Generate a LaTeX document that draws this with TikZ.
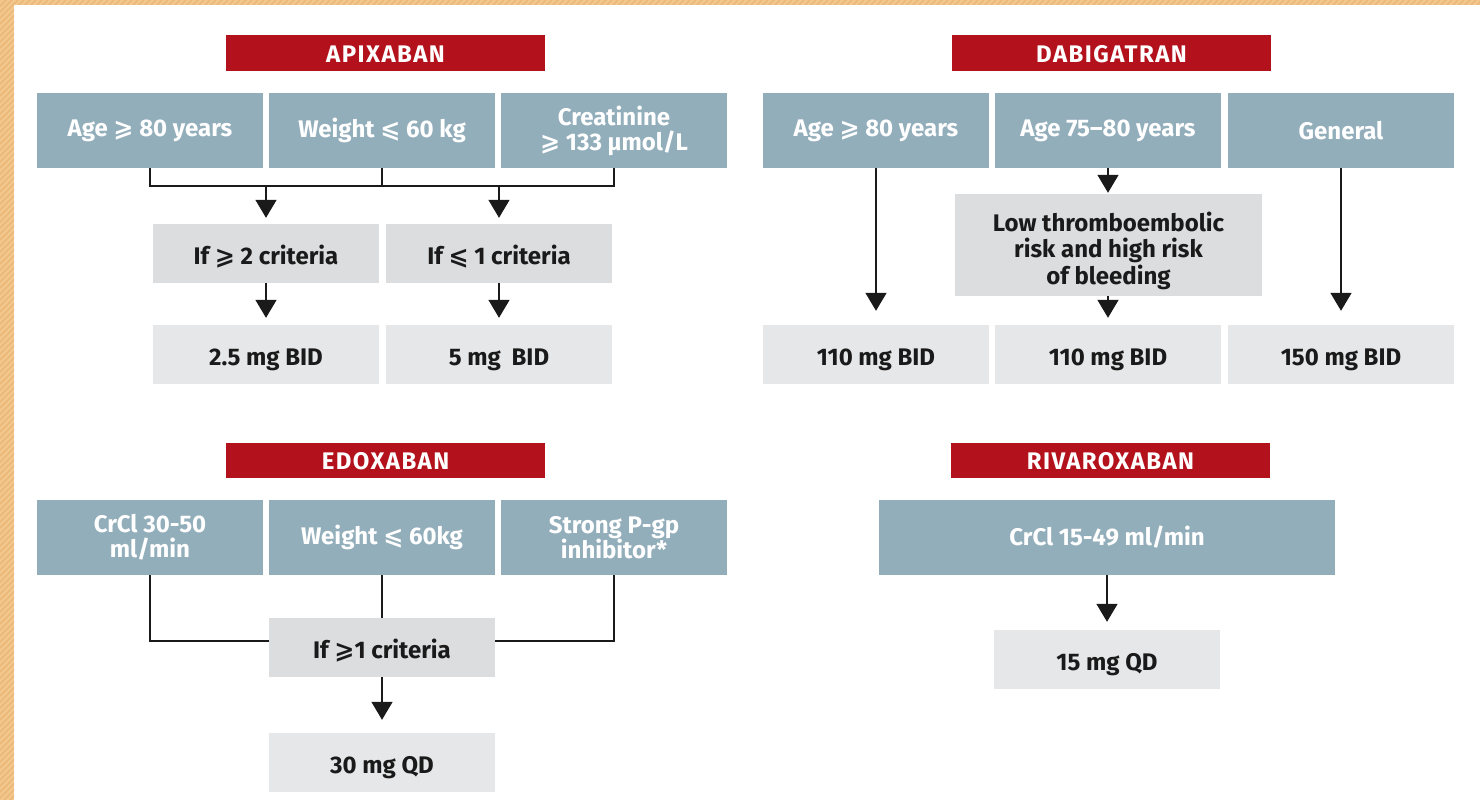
\documentclass[tikz,border=0pt]{standalone}
\usepackage{fontspec}
\setmainfont{Fira Sans}
\newfontfamily\symfont{DejaVu Sans}
\usetikzlibrary{arrows.meta}
\definecolor{drugred}{HTML}{B3111C}
\definecolor{critblue}{HTML}{93AEBB}
\definecolor{condgray}{HTML}{DCDDDF}
\definecolor{dosegray}{HTML}{E6E7E8}
\definecolor{ink}{HTML}{1A1A1A}
\definecolor{hatchbase}{HTML}{F3C88E}
\definecolor{hatchline}{HTML}{ECB877}
\newcommand{\atleast}{{\symfont\char"2A7E}}
\newcommand{\atmost}{{\symfont\char"2A7D}}
\tikzset{
  drugtitle/.style={fill=drugred, text=white, inner sep=0pt,
    font=\bfseries\fontsize{24}{26}\selectfont\addfontfeature{LetterSpace=6},
    text height=18.5pt, text depth=0pt,
    minimum width=319pt, minimum height=36pt},
  critbox/.style={fill=critblue, text=white, inner sep=0pt, align=center,
    font=\bfseries\fontsize{24}{25}\selectfont,
    minimum width=226pt, minimum height=75pt},
  graybox/.style={text=ink, inner sep=0pt, align=center,
    font=\bfseries\fontsize{24}{26.5}\selectfont,
    minimum width=226pt, minimum height=59pt},
  condbox/.style={graybox, fill=condgray, text height=21pt, text depth=0pt},
  dosebox/.style={graybox, fill=dosegray, text height=21pt, text depth=0pt},
  link/.style={draw=ink, line width=1.6pt},
  arr/.style={link, -{Triangle[width=21pt,length=18pt]}}
}
\begin{document}
\begin{tikzpicture}[x=1pt, y=-1pt]
\useasboundingbox (0,0) rectangle (1480,800);
\fill[white] (0,0) rectangle (1480,800);
% hatched frame strips on the left and top edges
\fill[hatchbase] (0,0) rectangle (14,800);
\fill[hatchbase] (0,0) rectangle (1480,5);
\begin{scope}
  \clip (0,0) rectangle (14,800) (14,0) rectangle (1480,5);
  \foreach \i in {-800,-794,...,1480}
    \draw[hatchline, line width=1.6pt] (\i,800) -- ++(800,-800);
\end{scope}

% ---------------- Apixaban ----------------
\node[drugtitle] (tapi) at (385.5,53) {APIXABAN};
\node[critbox] (a1) at (150,130.5) {Age \atleast\ 80 years};
\node[critbox] (a2) at (382,130.5) {Weight \atmost\ 60 kg};
\node[critbox] (a3) at (614,130.5) {Creatinine\\\atleast\ 133 µmol/L};
\node[condbox] (c1) at (266,253.5) {If \atleast\ 2 criteria};
\node[condbox] (c2) at (499,253.5) {If \atmost\ 1 criteria};
\node[dosebox] (r1) at (266,354.5) {2.5 mg BID};
\node[dosebox] (r2) at (499,354.5) {5 mg\hspace{0.45em}BID};
\coordinate (abus) at (0,186);
\draw[link] (a1.south) -- (a1.south |- abus) -| (a3.south);
\draw[link] (a2.south) -- (a2.south |- abus);
\draw[arr] (c1.north |- abus) -- ([yshift=6pt]c1.north);
\draw[arr] (c2.north |- abus) -- ([yshift=6pt]c2.north);
\draw[arr] (c1.south) -- ([yshift=7pt]r1.north);
\draw[arr] (c2.south) -- ([yshift=7pt]r2.north);

% ---------------- Dabigatran ----------------
\node[drugtitle] (tdab) at (1111.5,53) {DABIGATRAN};
\node[critbox] (d1) at (876,130.5) {Age \atleast\ 80 years};
\node[critbox] (d2) at (1108,130.5) {Age 75–80 years};
\node[critbox] (d3) at (1341,130.5) {General};
\node[graybox, fill=condgray, minimum width=307pt, minimum height=102pt] (low) at (1108.5,245)
  {\rule{0pt}{31pt}Low thromboembolic\\risk and high risk\\of bleeding};
\node[dosebox] (dr1) at (876,354.5) {110 mg BID};
\node[dosebox] (dr2) at (1108,354.5) {110 mg BID};
\node[dosebox] (dr3) at (1341,354.5) {150 mg BID};
\draw[arr] (d1.south) -- ([yshift=14pt]dr1.north);
\draw[arr] (d2.south) -- ([yshift=1pt]d2.south |- low.north);
\draw[arr] (d2.south |- low.south) -- ([yshift=7pt]dr2.north);
\draw[arr] (d3.south) -- ([yshift=14pt]dr3.north);

% ---------------- Edoxaban ----------------
\node[drugtitle, minimum height=35pt] (tedo) at (385.5,460.5) {EDOXABAN};
\node[critbox] (e1) at (150,537.5) {CrCl 30-50\\ml/min};
\node[critbox] (e2) at (382,537.5) {Weight \atmost\ 60kg};
\node[critbox] (e3) at (614,537.5) {Strong P-gp\\inhibitor*};
\node[condbox] (ec) at (382,647.5) {If \atleast1 criteria};
\node[dosebox] (er) at (382,762.5) {30 mg QD};
\draw[link] (e1.south) |- ([yshift=6.5pt]ec.west);
\draw[link] (e3.south) |- ([yshift=6.5pt]ec.east);
\draw[link] (e2.south) -- (ec.north);
\draw[arr] (ec.south) -- ([yshift=13pt]er.north);

% ---------------- Rivaroxaban ----------------
\node[drugtitle, minimum height=35pt] (triv) at (1110.5,460.5) {RIVAROXABAN};
\node[critbox, minimum width=456pt] (rv) at (1107,537.5) {CrCl 15-49 ml/min};
\node[dosebox] (rr) at (1107,659.5) {15 mg QD};
\draw[arr] (rv.south) -- ([yshift=8pt]rr.north);
\end{tikzpicture}
\end{document}
